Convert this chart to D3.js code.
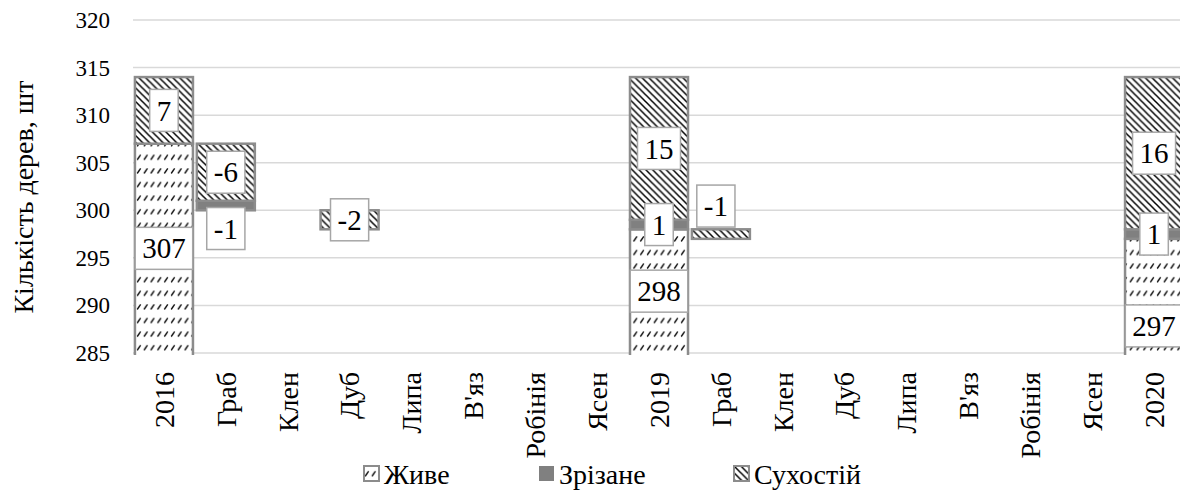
<!DOCTYPE html>
<html>
<head>
<meta charset="utf-8">
<script src="https://cdn.jsdelivr.net/npm/d3@7"></script>
<style>
  body { margin: 0; background: #fff; }
  svg { display: block; }
</style>
</head>
<body>
<div id="chart"></div>
<script>
// categories along the x axis
var categories = ["2016", "Граб", "Клен", "Дуб", "Липа", "В'яз", "Робінія", "Ясен",
                  "2019", "Граб", "Клен", "Дуб", "Липа", "В'яз", "Робінія", "Ясен", "2020"];

// invisible base series (waterfall offset)
var baseVals = [0, 300, 0, 298, 0, 0, 0, 0, 0, 297, 0, 0, 0, 0, 0, 0, 0];
// Живе
var liveVals = [307, 0, 0, 0, 0, 0, 0, 0, 298, 0, 0, 0, 0, 0, 0, 0, 297];
// Зрізане
var cutVals  = [0, -1, 0, 0, 0, 0, 0, 0, 1, 0, 0, 0, 0, 0, 0, 0, 1];
// Сухостій
var deadVals = [7, -6, 0, -2, 0, 0, 0, 0, 15, -1, 0, 0, 0, 0, 0, 0, 16];

var seriesNames = ["Живе", "Зрізане", "Сухостій"];
var yDomain = [285, 320];

// hand-moved data labels (pixels), as in the source chart
var labelNudge = {
  "1-1": { dx: 0, dy: 23 },
  "2-9": { dx: -5, dy: -28 },
  "0-16": { dx: 0, dy: 30 }
};

var width = 1180, height = 492;
var outline = "#8c8c8c";
var serif = "'Liberation Serif'";

var svg = d3.select("#chart").append("svg")
    .attr("width", width)
    .attr("height", height);

var defs = svg.append("defs");

// dashed upward diagonal (Живе)
var pw = 6.8, ph = 13.6;
var pLive = defs.append("pattern")
    .attr("id", "pLive")
    .attr("patternUnits", "userSpaceOnUse")
    .attr("width", pw).attr("height", ph);
pLive.append("rect").attr("width", pw).attr("height", ph).attr("fill", "#fff");
pLive.append("path")
    .attr("d", "M1.2,10.2L4.6,5.2")
    .attr("stroke", "#000").attr("stroke-width", 1.3);

// dark downward diagonal (Сухостій)
var p = 6.8;
var pDead = defs.append("pattern")
    .attr("id", "pDead")
    .attr("patternUnits", "userSpaceOnUse")
    .attr("width", p).attr("height", p);
pDead.append("rect").attr("width", p).attr("height", p).attr("fill", "#fff");
pDead.append("path")
    .attr("d", "M-1,-1L" + (p + 1) + "," + (p + 1) +
               "M" + (p - 2) + ",-2L" + (p + 2) + ",2" +
               "M-2," + (p - 2) + "L2," + (p + 2))
    .attr("stroke", "#000").attr("stroke-width", 1.5);

var fills = ["url(#pLive)", "#808080", "url(#pDead)"];

defs.append("clipPath").attr("id", "plotClip")
  .append("rect").attr("x", 0).attr("y", 0).attr("width", width).attr("height", 355);

var x = d3.scaleBand()
    .domain(d3.range(categories.length))
    .range([133, 1185])
    .paddingInner(0.0625)
    .paddingOuter(0.03125);

var y = d3.scaleLinear().domain(yDomain).range([353, 20]);

// gridlines
svg.append("g").selectAll("line")
    .data(y.ticks(7))
    .enter().append("line")
    .attr("x1", 133).attr("x2", width)
    .attr("y1", function(d) { return y(d); })
    .attr("y2", function(d) { return y(d); })
    .attr("stroke", "#d9d9d9")
    .attr("stroke-width", 1.5);

// y tick labels
svg.append("g").selectAll("text")
    .data(y.ticks(7))
    .enter().append("text")
    .attr("x", 110)
    .attr("y", function(d) { return y(d); })
    .attr("dy", "0.35em")
    .attr("text-anchor", "end")
    .style("font-family", serif)
    .attr("font-size", 23)
    .text(function(d) { return d; });

// y axis title
svg.append("text")
    .attr("transform", "translate(23,197) rotate(-90)")
    .attr("dy", "0.35em")
    .attr("text-anchor", "middle")
    .style("font-family", serif)
    .attr("font-size", 28)
    .text("Кількість дерев, шт");

// build stacked segments
var segments = [];
var seriesVals = [liveVals, cutVals, deadVals];
categories.forEach(function(c, i) {
  var y0 = baseVals[i];
  seriesVals.forEach(function(vals, k) {
    var v = Math.abs(vals[i]);
    if (v > 0) {
      segments.push({ i: i, k: k, lo: y0, hi: y0 + v, value: vals[i] });
    }
    y0 += v;
  });
});

var barLayer = svg.append("g").attr("clip-path", "url(#plotClip)");
barLayer.selectAll("rect")
    .data(segments)
    .enter().append("rect")
    .attr("x", function(d) { return x(d.i); })
    .attr("width", x.bandwidth())
    .attr("y", function(d) { return y(d.hi); })
    .attr("height", function(d) { return y(Math.max(d.lo, yDomain[0] - 1)) - y(d.hi); })
    .attr("fill", function(d) { return fills[d.k]; })
    .attr("stroke", outline)
    .attr("stroke-width", 2.5);

// data labels
var labels = svg.append("g").selectAll("g")
    .data(segments)
    .enter().append("g")
    .attr("transform", function(d) {
      var n = labelNudge[d.k + "-" + d.i] || { dx: 0, dy: 0 };
      var cy = (y(Math.max(d.lo, yDomain[0])) + y(d.hi)) / 2;
      return "translate(" + (x(d.i) + x.bandwidth() / 2 + n.dx) + "," + (cy + n.dy) + ")";
    });

labels.append("rect");
labels.append("text")
    .attr("text-anchor", "middle")
    .attr("dy", "0.35em")
    .style("font-family", serif)
    .attr("font-size", 29)
    .text(function(d) { return d.value; });

labels.each(function() {
  var g = d3.select(this);
  var bb = g.select("text").node().getBBox();
  g.select("rect")
    .attr("x", bb.x - 7)
    .attr("y", -21)
    .attr("width", bb.width + 14)
    .attr("height", 42)
    .attr("fill", "#fff")
    .attr("stroke", "#a6a6a6")
    .attr("stroke-width", 1.5);
});

// x labels
svg.append("g").selectAll("text")
    .data(categories)
    .enter().append("text")
    .attr("transform", function(d, i) {
      return "translate(" + (x(i) + x.bandwidth() / 2) + ",372) rotate(-90)";
    })
    .attr("dy", "0.35em")
    .attr("text-anchor", "end")
    .style("font-family", serif)
    .attr("font-size", 28)
    .text(function(d) { return d; });

// legend
var legendX = [364, 539, 734];
var legend = svg.append("g").selectAll("g")
    .data(seriesNames)
    .enter().append("g")
    .attr("transform", function(d, k) { return "translate(" + legendX[k] + ",466)"; });

legend.append("rect")
    .attr("width", 15).attr("height", 15)
    .attr("fill", function(d, k) { return fills[k]; })
    .attr("stroke", function(d, k) { return k === 1 ? "none" : outline; })
    .attr("stroke-width", 2);

legend.append("text")
    .attr("x", 20)
    .attr("y", 18)
    .style("font-family", serif)
    .attr("font-size", 28)
    .text(function(d) { return d; });
</script>
</body>
</html>
